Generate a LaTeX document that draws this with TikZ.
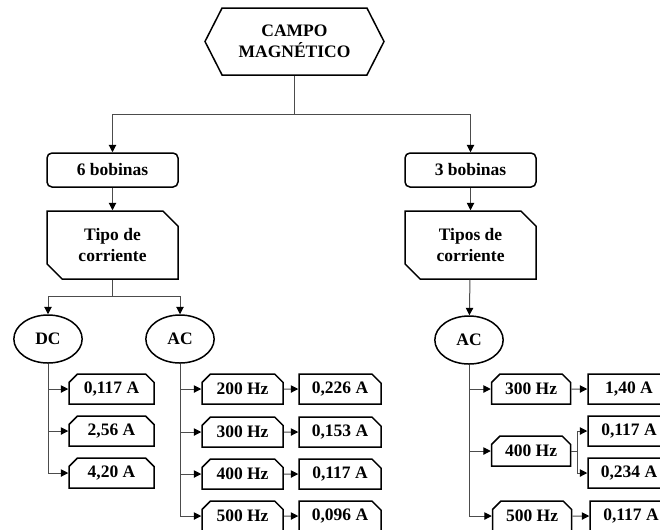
\documentclass[tikz,border=0pt]{standalone}
\usepackage{fontspec}
\setmainfont{Liberation Serif}
\usetikzlibrary{shapes.symbols,shapes.misc,shapes.geometric,arrows.meta}

\tikzset{
  box/.style={draw,line width=0.9pt,font=\fontsize{10.5}{12.5}\selectfont\bfseries,inner sep=1pt,align=center},
  hexbox/.style={box,signal,signal to=west and east,signal pointer angle=126,minimum width=107.4pt,minimum height=40.2pt},
  roundbox/.style={box,rounded corners=3pt,minimum width=78.6pt,minimum height=20.4pt},
  cutbox/.style={box,chamfered rectangle,chamfered rectangle corners={north east,south west},chamfered rectangle xsep=6pt,minimum width=78.6pt,minimum height=40.8pt},
  ellbox/.style={box,ellipse,minimum width=41pt,minimum height=28.8pt},
  valbox/.style={box,chamfered rectangle,chamfered rectangle corners={north west,north east},chamfered rectangle xsep=2pt,minimum height=18pt},
  ampbox/.style={box,chamfered rectangle,chamfered rectangle corners={north east},chamfered rectangle xsep=2.4pt,minimum width=49.2pt,minimum height=18pt},
  conn/.style={draw=black!70,line width=0.6pt},
  arr/.style={conn,-{Triangle[length=4.4pt,width=4.4pt,color=black]}}
}

\begin{document}
\begin{tikzpicture}[x=0.6pt,y=-0.6pt]
\useasboundingbox (0,0) rectangle (660,529);
\clip (0,0) rectangle (660,529);
% main blocks
\node[hexbox] (mag) at (294.5,41.5) {CAMPO\\MAGNÉTICO};
\node[roundbox] (bob6) at (112.5,170) {6 bobinas};
\node[roundbox] (bob3) at (470.5,170) {3 bobinas};
\node[cutbox] (tipo6) at (112.5,245) {Tipo de\\corriente};
\node[cutbox] (tipo3) at (470.5,245) {Tipos de\\corriente};
\node[ellbox] (dc) at (48,339) {DC};
\node[ellbox] (ac) at (180,339) {AC};
\node[ellbox] (ac3) at (469,340) {AC};
\coordinate (split1) at (294.5,114);
\coordinate (split2) at (112.5,296);
\draw[conn] (mag.south) -- (split1);
\draw[arr] (split1) -| (bob6.north);
\draw[arr] (split1) -| (bob3.north);
\draw[arr] (bob6) -- (tipo6);
\draw[arr] (bob3) -- (tipo3);
\draw[conn] (tipo6.south) -- (split2);
\draw[arr] (split2) -| (dc.north);
\draw[arr] (split2) -| (ac.north);
\draw[arr] (tipo3) -- (ac3);
% 6 bobinas, DC
\foreach \y/\v [count=\i] in {389/{0,117 A},431/{2,56 A},473/{4,20 A}} {
  \node[valbox,minimum width=51pt] (dcv\i) at (111.5,\y) {\v};
  \draw[arr] (dc.south) |- (dcv\i.west);
}
% 6 bobinas, AC
\foreach \y/\f/\v [count=\i] in {389/200 Hz/{0,226 A},432/300 Hz/{0,153 A},474/400 Hz/{0,117 A},516/500 Hz/{0,096 A}} {
  \node[valbox,minimum width=48.6pt] (hz\i) at (242.5,\y) {\f};
  \node[ampbox] (amp\i) at (340,\y) {\v};
  \draw[arr] (ac.south) |- (hz\i.west);
  \draw[arr] (hz\i) -- (amp\i);
}
% 3 bobinas, AC
\node[valbox,minimum width=47.4pt] (rhz1) at (531,389) {300 Hz};
\node[valbox,minimum width=47.4pt] (rhz2) at (531,451) {400 Hz};
\node[valbox,minimum width=47.4pt] (rhz3) at (532,516) {500 Hz};
\node[ampbox] (ramp1) at (629,389) {1,40 A};
\node[ampbox] (ramp2) at (629,431) {0,117 A};
\node[ampbox] (ramp3) at (629,473) {0,234 A};
\node[ampbox] (ramp4) at (631,516) {0,117 A};
\coordinate (fork) at (577,451);
\draw[arr] (ac3.south) |- (rhz1.west);
\draw[arr] (ac3.south) |- (rhz2.west);
\draw[arr] (ac3.south) |- (rhz3.west);
\draw[arr] (rhz1) -- (ramp1);
\draw[conn] (rhz2.east) -- (fork);
\draw[arr] (fork) |- (ramp2.west);
\draw[arr] (fork) |- (ramp3.west);
\draw[arr] (rhz3) -- (ramp4);
\end{tikzpicture}
\end{document}
